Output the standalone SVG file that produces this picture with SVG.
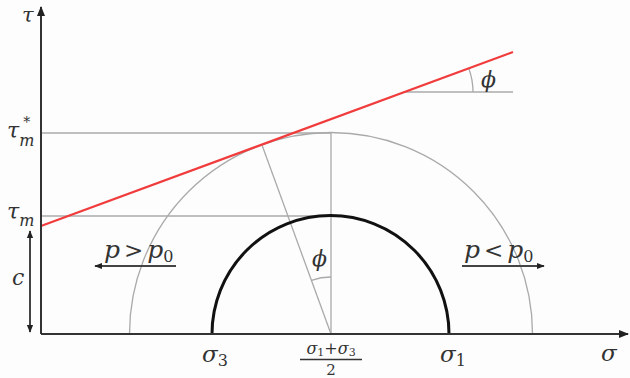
<svg xmlns="http://www.w3.org/2000/svg" width="630" height="378" viewBox="0 0 630 378">
<defs>
<marker id="ah" viewBox="0 0 10 10" refX="9" refY="5" markerWidth="10" markerHeight="10" markerUnits="userSpaceOnUse" orient="auto-start-reverse"><path d="M0,1 L10,5 L0,9 Z" fill="#222"/></marker>
<marker id="ahs" viewBox="0 0 10 10" refX="9" refY="5" markerWidth="8" markerHeight="8" markerUnits="userSpaceOnUse" orient="auto-start-reverse"><path d="M0,1 L10,5 L0,9 Z" fill="#222"/></marker>
<style>
.ax{stroke:#333;stroke-width:2;fill:none}
.g{stroke:#aaa;stroke-width:1.3;fill:none}
.k{stroke:#111;stroke-width:3;fill:none}
.r{stroke:#f03c3c;stroke-width:2.2;fill:none}
.t{font-family:"DejaVu Serif","Liberation Serif",serif;font-style:italic;fill:#333}
.u{font-style:normal}
.ar{stroke:#444;stroke-width:2;fill:none}
</style>
</defs>
<rect width="630" height="378" fill="#fdfdfd"/>
<g id="guides">
<line class="g" x1="41" y1="133" x2="331" y2="133"/>
<line class="g" x1="41" y1="216" x2="331" y2="216"/>
<line class="g" x1="331" y1="133" x2="331" y2="334"/>
<line class="g" x1="331" y1="334" x2="262" y2="145"/>
<line class="g" x1="405" y1="92" x2="513" y2="92"/>
<path class="g" d="M473,92 A68,68 0 0 0 469,69"/>
<path class="g" d="M331,277 A57,57 0 0 0 311.5,280.4"/>
</g>
<g id="outer-circle"><path class="g" d="M129.5,334 A201.5,201.5 0 0 1 532.5,334"/></g>
<g id="inner-circle"><path class="k" d="M212,334 A118.5,118.5 0 0 1 449,334"/></g>
<g id="failure-line"><line class="r" x1="41" y1="226" x2="513" y2="52"/></g>
<g id="axes">
<line class="ax" x1="41" y1="334" x2="41" y2="7" marker-end="url(#ah)"/>
<line class="ax" x1="41" y1="334" x2="628" y2="334" marker-end="url(#ah)"/>
</g>
<g id="connectors">
<line class="ar" x1="30" y1="231" x2="30" y2="332" marker-start="url(#ahs)" marker-end="url(#ahs)"/>
<line class="ar" x1="176" y1="266" x2="95" y2="266" marker-end="url(#ahs)"/>
<line class="ar" x1="462" y1="266" x2="544" y2="266" marker-end="url(#ahs)"/>
</g>
<g id="labels">
<text class="t" x="22" y="22" font-size="21">τ</text>
<text class="t" x="7" y="138" font-size="22">τ<tspan dy="8" font-size="16">m</tspan><tspan class="u" dx="-11" dy="-19" font-size="14">*</tspan></text>
<text class="t" x="7" y="219" font-size="22">τ<tspan dy="7" font-size="16">m</tspan></text>
<text class="t" x="12" y="285" font-size="22">c</text>
<text class="t" x="481" y="87" font-size="22">ϕ</text>
<text class="t" x="312" y="266" font-size="22">ϕ</text>
<text class="t" x="104" y="258" font-size="25">p<tspan class="u" dx="4" font-size="23">&gt;</tspan><tspan dx="4">p</tspan><tspan class="u" dy="4" font-size="16">0</tspan></text>
<text class="t" x="464" y="258" font-size="25">p<tspan class="u" dx="4" font-size="23">&lt;</tspan><tspan dx="4">p</tspan><tspan class="u" dy="4" font-size="16">0</tspan></text>
<text class="t" x="202" y="362" font-size="23">σ<tspan class="u" dy="4" font-size="16">3</tspan></text>
<text class="t" x="440" y="362" font-size="23">σ<tspan class="u" dy="4" font-size="16">1</tspan></text>
<text class="t" x="601" y="361" font-size="23">σ</text>
<text class="t" x="331" y="354" font-size="16" text-anchor="middle">σ<tspan class="u" dy="2" font-size="11">1</tspan><tspan class="u" dy="-2">+</tspan>σ<tspan class="u" dy="2" font-size="11">3</tspan></text>
<line x1="300" y1="359.5" x2="362" y2="359.5" stroke="#333" stroke-width="1.3"/>
<text class="t u" x="331" y="375" font-size="15" text-anchor="middle">2</text>
</g>
</svg>
